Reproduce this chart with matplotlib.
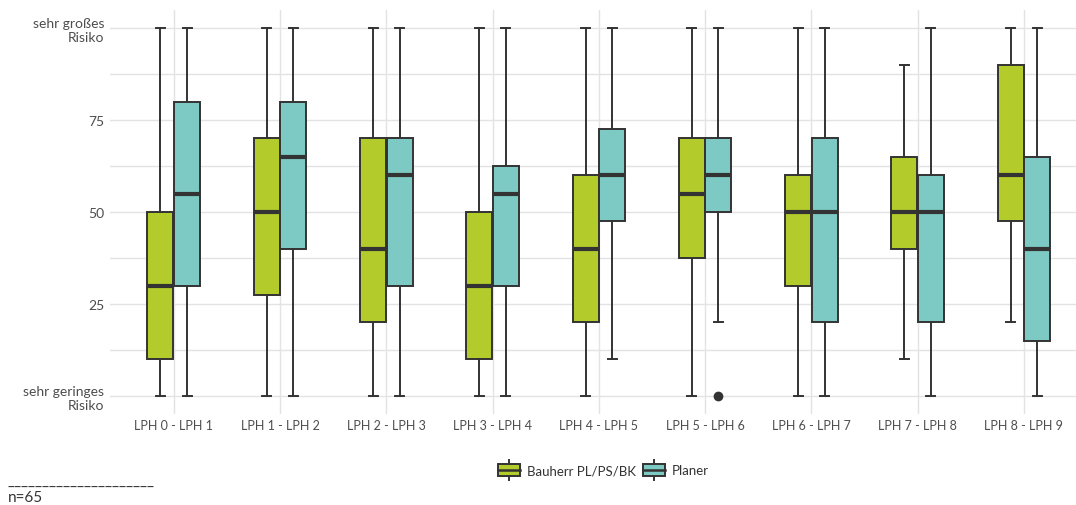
import matplotlib
matplotlib.use("Agg")
import matplotlib.pyplot as plt
from matplotlib.legend_handler import HandlerBase
from matplotlib.patches import Rectangle
from matplotlib.lines import Line2D

plt.rcParams['font.family'] = ['Lato', 'DejaVu Sans']

categories = ["LPH 0 - LPH 1", "LPH 1 - LPH 2", "LPH 2 - LPH 3", "LPH 3 - LPH 4",
              "LPH 4 - LPH 5", "LPH 5 - LPH 6", "LPH 6 - LPH 7", "LPH 7 - LPH 8",
              "LPH 8 - LPH 9"]
groups = ["Bauherr PL/PS/BK", "Planer"]

# box statistics (0 = sehr geringes, 100 = sehr großes Risiko)
bauherr_lo = [0, 0, 0, 0, 0, 0, 0, 10, 20]
bauherr_q1 = [10, 27.5, 20, 10, 20, 37.5, 30, 40, 47.5]
bauherr_med = [30, 50, 40, 30, 40, 55, 50, 50, 60]
bauherr_q3 = [50, 70, 70, 50, 60, 70, 60, 65, 90]
bauherr_hi = [100, 100, 100, 100, 100, 100, 100, 90, 100]
bauherr_out = [[], [], [], [], [], [], [], [], []]

planer_lo = [0, 0, 0, 0, 10, 20, 0, 0, 0]
planer_q1 = [30, 40, 30, 30, 47.5, 50, 20, 20, 15]
planer_med = [55, 65, 60, 55, 60, 60, 50, 50, 40]
planer_q3 = [80, 80, 70, 62.5, 72.5, 70, 70, 60, 65]
planer_hi = [100, 100, 100, 100, 100, 100, 100, 100, 100]
planer_out = [[], [], [], [], [], [0], [], [], []]

colors = ["#b3cb2b", "#7ccac3"]
edge = "#333333"


def make_stats(lo, q1, med, q3, hi, out):
    return [dict(whislo=a, q1=b, med=c, q3=d, whishi=e, fliers=f)
            for a, b, c, d, e, f in zip(lo, q1, med, q3, hi, out)]


stats = [make_stats(bauherr_lo, bauherr_q1, bauherr_med, bauherr_q3, bauherr_hi, bauherr_out),
         make_stats(planer_lo, planer_q1, planer_med, planer_q3, planer_hi, planer_out)]

fig = plt.figure(figsize=(10.76, 5.06), dpi=100)
W, H = 1076, 506
x0, x1, y0, y1 = 110, 1076, 10.6, 415.4
ax = fig.add_axes([x0 / W, 1 - y1 / H, (x1 - x0) / W, (y1 - y0) / H])

n = len(categories)
centers = list(range(1, n + 1))
for gi, (st, col) in enumerate(zip(stats, colors)):
    offs = -0.125 if gi == 0 else 0.125
    pos = [c + offs for c in centers]
    ax.bxp(st, positions=pos, widths=0.245, patch_artist=True, capwidths=0.085,
           boxprops=dict(facecolor=col, edgecolor=edge, linewidth=1.4),
           medianprops=dict(color=edge, linewidth=3),
           whiskerprops=dict(color=edge, linewidth=1.4),
           capprops=dict(color=edge, linewidth=1.4),
           flierprops=dict(marker='o', markerfacecolor=edge, markeredgecolor=edge,
                           markersize=6),
           zorder=3)

ax.set_xlim(0.4, 9.49)
ax.set_ylim(-5, 105)
ax.set_xticks(centers)
ax.set_xticklabels(categories, fontsize=9)
ax.set_yticks([0, 25, 50, 75, 100])
ax.set_yticklabels(["sehr geringes\nRisiko", "25", "50", "75", "sehr großes\nRisiko"],
                   fontsize=10)
ax.set_yticks([12.5, 37.5, 62.5, 87.5], minor=True)
ax.tick_params(axis='both', length=0, labelcolor="#4d4d4d")
ax.tick_params(axis='x', pad=3)
ax.tick_params(axis='y', pad=4)
ax.tick_params(axis='y', which='minor', length=0)
for lbl in ax.get_yticklabels():
    lbl.set_linespacing(1.25)
ax.grid(True, which='major', color="#e3e3e3", linewidth=1.0, zorder=0)
ax.grid(True, which='minor', axis='y', color="#e3e3e3", linewidth=1.0, zorder=0)
ax.set_axisbelow(True)
for s in ax.spines.values():
    s.set_visible(False)


class BoxHandler(HandlerBase):
    def create_artists(self, legend, orig_handle, xdescent, ydescent, width, height, fontsize, trans):
        fc = orig_handle.get_facecolor()
        bw = width * 0.92
        bx = (width - bw) / 2 - xdescent
        by = -ydescent
        rect = Rectangle((bx, by), bw, height, facecolor=fc, edgecolor=edge,
                         linewidth=1.4, transform=trans)
        cx = width / 2 - xdescent
        wl = Line2D([cx, cx], [by - height * 0.3, by + height * 1.3], color=edge,
                    linewidth=1.4, transform=trans)
        ml = Line2D([bx, bx + bw], [by + height / 2] * 2, color=edge, linewidth=1.8,
                    transform=trans)
        return [wl, rect, ml]


handles = [Rectangle((0, 0), 1, 1, facecolor=c) for c in colors]
fig.legend(handles, groups, handler_map={Rectangle: BoxHandler()},
           loc='center', bbox_to_anchor=(603 / W, 1 - 471 / H), ncol=2, frameon=False,
           borderpad=0, fontsize=9.5, handlelength=1.8, handleheight=1.1,
           handletextpad=0.45, columnspacing=0.45, labelcolor="#333333")

fig.text(8 / W, 1 - 482 / H, "_" * 21, fontsize=11, color="#333333", ha='left', va='center')
fig.text(8 / W, 1 - 498 / H, "n=65", fontsize=11, color="#333333", ha='left', va='center')

fig.savefig("out.png", dpi=100)
